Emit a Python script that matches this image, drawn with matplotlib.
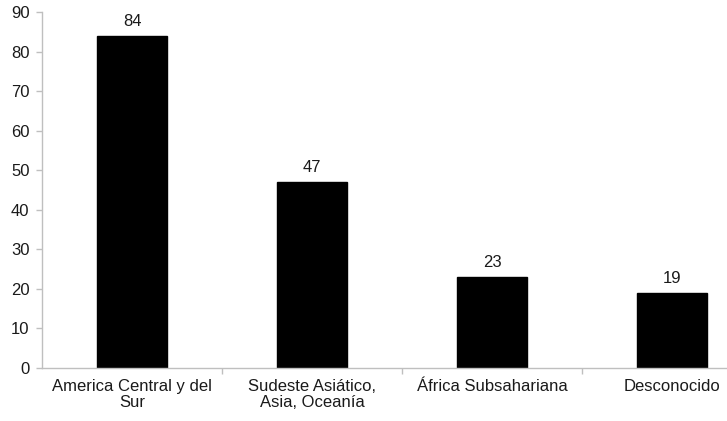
import matplotlib
matplotlib.use("Agg")
import matplotlib.pyplot as plt
import numpy as np

categories = ["America Central y del\nSur", "Sudeste Asiático,\nAsia, Oceanía",
              "África Subsahariana", "Desconocido"]
values = [84, 47, 23, 19]
yticks = [0, 10, 20, 30, 40, 50, 60, 70, 80, 90]

plt.rcParams['font.family'] = ['Liberation Sans', 'DejaVu Sans']
FS = 12

fig = plt.figure(figsize=(7.27, 4.21), dpi=100)
ax = fig.add_axes([42/727, 53/421, 720/727, 356/421])

x = np.arange(len(categories))
ax.bar(x, values, width=0.39, color='black', edgecolor='black')
for xi, v in zip(x, values):
    ax.annotate(str(v), (xi, v), xytext=(0, 5), textcoords='offset points',
                ha='center', va='bottom', fontsize=FS, color='#1a1a1a')

ax.set_xlim(-0.5, len(categories) - 0.5)
ax.set_ylim(0, 90)
ax.set_yticks(yticks)
ax.set_xticks(x)
ax.set_xticklabels(categories, fontsize=FS, color='#1a1a1a', linespacing=1.05)
ax.set_xticks(np.arange(0.5, len(categories) - 0.5, 1), minor=True)
ax.tick_params(axis='x', which='major', length=0, pad=8)
ax.tick_params(axis='x', which='minor', length=4, color='#bfbfbf', width=1)
ax.tick_params(axis='y', length=4, color='#bfbfbf', width=1, labelsize=FS,
               labelcolor='#1a1a1a', pad=5)

for s in ['top', 'right']:
    ax.spines[s].set_visible(False)
for s in ['left', 'bottom']:
    ax.spines[s].set_color('#bfbfbf')
    ax.spines[s].set_linewidth(1)

fig.savefig("out.png", dpi=100)
